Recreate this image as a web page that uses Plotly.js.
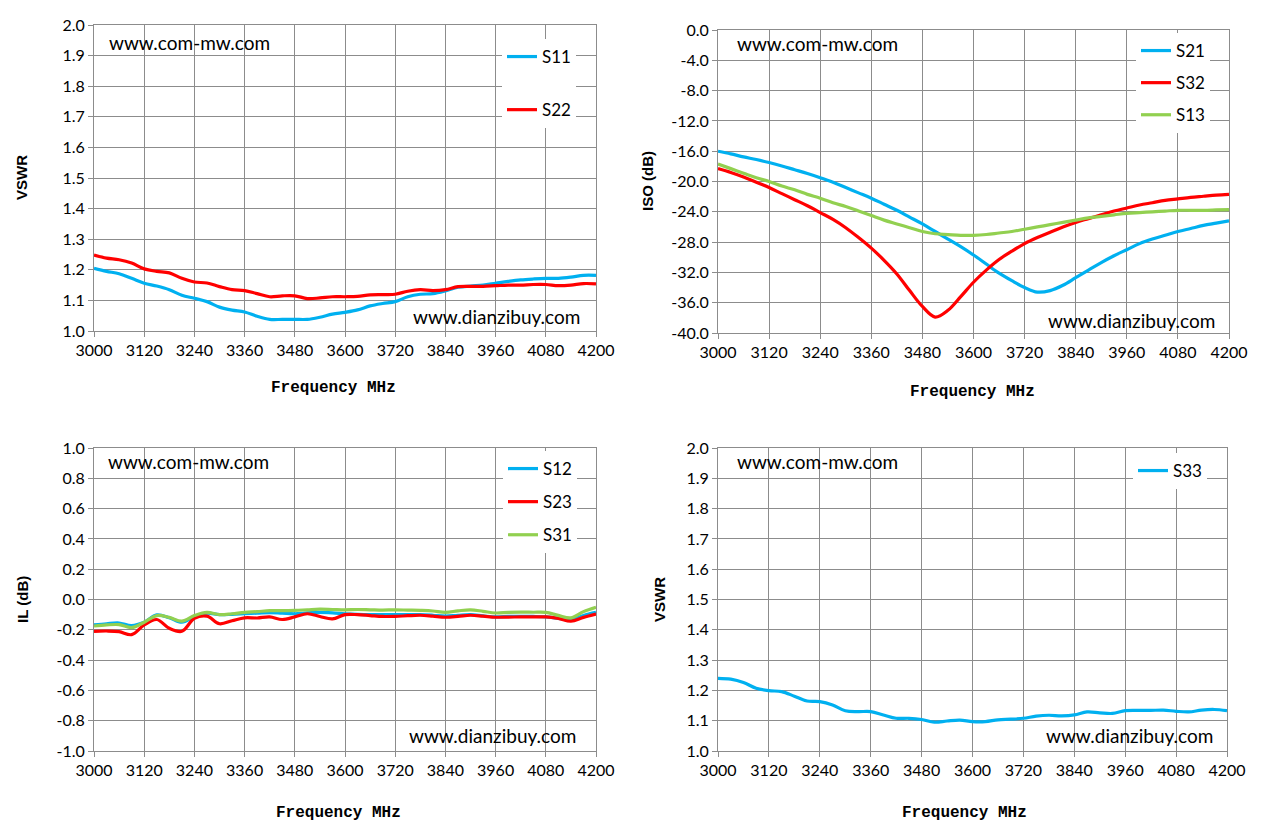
<!DOCTYPE html>
<html>
<head>
<meta charset="utf-8">
<script src="https://cdn.plot.ly/plotly-3.0.1.min.js"></script>
<style>
  html, body { margin: 0; padding: 0; background: #fff; }
  #chart { width: 1261px; height: 835px; }
</style>
</head>
<body>
<div id="chart"></div>
<script>
// frequency points, MHz (30 MHz steps)
var freq = [3000, 3030, 3060, 3090, 3120, 3150, 3180, 3210, 3240, 3270, 3300, 3330, 3360, 3390,
  3420, 3450, 3480, 3510, 3540, 3570, 3600, 3630, 3660, 3690, 3720, 3750, 3780, 3810, 3840,
  3870, 3900, 3930, 3960, 3990, 4020, 4050, 4080, 4110, 4140, 4170, 4200]

// VSWR port 1 / port 2
var s11 = [1.205, 1.195, 1.187, 1.172, 1.156, 1.147, 1.135, 1.117, 1.107, 1.096, 1.078, 1.068, 1.062, 1.048,
  1.038, 1.038, 1.038, 1.038, 1.045, 1.055, 1.061, 1.069, 1.082, 1.090, 1.096, 1.112, 1.120, 1.122, 1.131,
  1.143, 1.147, 1.150, 1.156, 1.162, 1.167, 1.170, 1.172, 1.172, 1.176, 1.182, 1.182]
var s22 = [1.248, 1.238, 1.233, 1.222, 1.203, 1.195, 1.190, 1.172, 1.160, 1.157, 1.145, 1.135, 1.132, 1.122,
  1.112, 1.115, 1.115, 1.106, 1.108, 1.112, 1.112, 1.113, 1.118, 1.119, 1.120, 1.130, 1.135, 1.132, 1.135,
  1.145, 1.146, 1.146, 1.148, 1.150, 1.150, 1.152, 1.152, 1.148, 1.150, 1.155, 1.154]

// isolation, dB
var s21 = [-16.0, -16.35, -16.75, -17.1, -17.5, -17.95, -18.45, -18.95, -19.5, -20.1, -20.8, -21.5, -22.2, -23.0,
  -23.8, -24.7, -25.6, -26.6, -27.6, -28.6, -29.7, -30.9, -32.1, -33.1, -34.0, -34.6, -34.4, -33.7, -32.7,
  -31.7, -30.7, -29.8, -29.0, -28.2, -27.6, -27.1, -26.6, -26.2, -25.8, -25.5, -25.2]
var s32 = [-18.3, -18.8, -19.4, -20.1, -20.8, -21.6, -22.4, -23.2, -24.1, -25.0, -26.1, -27.4, -28.8, -30.4,
  -32.2, -34.4, -36.5, -37.9, -37.0, -35.2, -33.3, -31.7, -30.3, -29.2, -28.2, -27.4, -26.7, -26.0, -25.4,
  -24.9, -24.4, -23.9, -23.5, -23.1, -22.8, -22.5, -22.3, -22.1, -21.95, -21.8, -21.7]
var s13 = [-17.7, -18.3, -18.9, -19.5, -20.0, -20.6, -21.1, -21.7, -22.2, -22.8, -23.3, -23.9, -24.5, -25.1,
  -25.6, -26.1, -26.6, -26.9, -27.0, -27.1, -27.1, -27.0, -26.8, -26.6, -26.3, -26.0, -25.7, -25.4, -25.1,
  -24.8, -24.6, -24.4, -24.2, -24.1, -24.0, -23.9, -23.8, -23.8, -23.8, -23.75, -23.7]

// insertion loss, dB
var s12 = [-0.168, -0.160, -0.155, -0.172, -0.150, -0.102, -0.120, -0.150, -0.112, -0.090, -0.100, -0.098, -0.094, -0.090,
  -0.086, -0.090, -0.094, -0.088, -0.085, -0.088, -0.094, -0.098, -0.100, -0.100, -0.100, -0.100, -0.100, -0.104, -0.110,
  -0.104, -0.100, -0.108, -0.115, -0.112, -0.111, -0.112, -0.115, -0.125, -0.135, -0.105, -0.085]
var s23 = [-0.210, -0.208, -0.212, -0.232, -0.168, -0.132, -0.190, -0.210, -0.125, -0.110, -0.160, -0.140, -0.121, -0.122,
  -0.115, -0.132, -0.115, -0.094, -0.112, -0.128, -0.100, -0.100, -0.106, -0.112, -0.111, -0.107, -0.104, -0.110, -0.117,
  -0.112, -0.104, -0.110, -0.117, -0.116, -0.115, -0.115, -0.115, -0.125, -0.143, -0.118, -0.096]
var s31 = [-0.175, -0.168, -0.166, -0.185, -0.150, -0.106, -0.118, -0.143, -0.106, -0.085, -0.100, -0.094, -0.085, -0.080,
  -0.074, -0.074, -0.072, -0.068, -0.064, -0.066, -0.068, -0.066, -0.068, -0.070, -0.068, -0.070, -0.072, -0.076, -0.085,
  -0.075, -0.068, -0.078, -0.089, -0.085, -0.083, -0.084, -0.085, -0.105, -0.121, -0.080, -0.051]

// VSWR port 3
var s33 = [1.240, 1.237, 1.226, 1.207, 1.199, 1.196, 1.181, 1.165, 1.163, 1.152, 1.133, 1.130, 1.130, 1.119,
  1.108, 1.108, 1.104, 1.095, 1.099, 1.102, 1.097, 1.097, 1.103, 1.105, 1.108, 1.115, 1.118, 1.116, 1.119,
  1.129, 1.126, 1.124, 1.133, 1.134, 1.134, 1.135, 1.131, 1.129, 1.135, 1.137, 1.133]

var BLUE = "#00b0f0", RED = "#ff0000", GREEN = "#92d050"
var W = 1261, H = 835
var tickFont = { family: "Lato, sans-serif", size: 16, color: "#000" }

function px(x) { return x / W }
function py(y) { return 1 - y / H }

function line(x, y, name, color, xa, ya, leg) {
  return {
    type: "scatter", mode: "lines", x: x, y: y, name: name,
    xaxis: xa, yaxis: ya, legend: leg, legendgroup: name,
    line: { color: color, width: 3.2, shape: "spline", smoothing: 1 },
  }
}

var data = [
  line(freq, s11, "S11", BLUE, "x", "y", "legend"),
  line(freq, s22, "S22", RED, "x", "y", "legend"),
  line(freq, s21, "S21", BLUE, "x2", "y2", "legend2"),
  line(freq, s32, "S32", RED, "x2", "y2", "legend2"),
  line(freq, s13, "S13", GREEN, "x2", "y2", "legend2"),
  line(freq, s12, "S12", BLUE, "x3", "y3", "legend3"),
  line(freq, s23, "S23", RED, "x3", "y3", "legend3"),
  line(freq, s31, "S31", GREEN, "x3", "y3", "legend3"),
  line(freq, s33, "S33", BLUE, "x4", "y4", "legend4"),
]

function ticks(lo, hi, step) {
  var v = [], t = []
  for (var k = 0; lo + k * step <= hi + 1e-9; k++) {
    var val = lo + k * step
    v.push(val)
    t.push(val.toFixed(1))
  }
  return { vals: v, text: t }
}

function xaxis(l, r, anchor) {
  return {
    domain: [px(l), px(r)], anchor: anchor, range: [3000, 4200],
    tickmode: "linear", tick0: 3000, dtick: 120,
    showgrid: true, gridcolor: "#8c8c8c", gridwidth: 1,
    showline: true, linecolor: "#8c8c8c", mirror: true,
    ticks: "outside", ticklen: 5, tickcolor: "#8c8c8c",
    tickfont: tickFont, zeroline: false, fixedrange: true,
  }
}
function yaxis(top, bot, anchor, lo, hi, step) {
  var t = ticks(lo, hi, step)
  return {
    domain: [py(bot), py(top)], anchor: anchor, range: [lo, hi],
    tickmode: "array", tickvals: t.vals, ticktext: t.text,
    showgrid: true, gridcolor: "#8c8c8c", gridwidth: 1,
    showline: true, linecolor: "#8c8c8c", mirror: true,
    ticks: "outside", ticklen: 5, tickcolor: "#8c8c8c",
    tickfont: tickFont, zeroline: false, fixedrange: true,
  }
}

function legendAt(x, y, gap) {
  return {
    x: px(x), y: py(y), xanchor: "left", yanchor: "top",
    bgcolor: "#fff", borderwidth: 0,
    font: { family: "Lato, sans-serif", size: 17, color: "#000" },
    tracegroupgap: gap, traceorder: "grouped",
  }
}

var axisTitleFont = { family: "Liberation Sans, Arial, sans-serif", size: 15, color: "#000", weight: "bold" }
var freqFont = { family: "Liberation Mono, monospace", size: 16, color: "#000", weight: "bold" }
var wmFont = { family: "Lato, sans-serif", size: 19, color: "#000" }

function note(text, x, y, font, xanchor, angle) {
  return {
    text: text, xref: "paper", yref: "paper", x: px(x), y: py(y),
    xanchor: xanchor || "center", yanchor: "middle",
    showarrow: false, font: font, textangle: angle || 0,
  }
}

var annotations = [
  note("<b>VSWR</b>", 22, 178, axisTitleFont, "center", -90),
  note("<b>ISO (dB)</b>", 648, 181, axisTitleFont, "center", -90),
  note("<b>IL (dB)</b>", 22, 600, axisTitleFont, "center", -90),
  note("<b>VSWR</b>", 659, 600, axisTitleFont, "center", -90),
  note("<b>Frequency MHz</b>", 333, 388, freqFont),
  note("<b>Frequency MHz</b>", 972, 392, freqFont),
  note("<b>Frequency MHz</b>", 338, 813, freqFont),
  note("<b>Frequency MHz</b>", 965, 813, freqFont),
  note("www.com-mw.com", 107, 42, wmFont, "left"),
  note("www.com-mw.com", 735, 44, wmFont, "left"),
  note("www.com-mw.com", 106, 462, wmFont, "left"),
  note("www.com-mw.com", 735, 462, wmFont, "left"),
  note("www.dianzibuy.com", 582, 316, wmFont, "right"),
  note("www.dianzibuy.com", 1217, 320, wmFont, "right"),
  note("www.dianzibuy.com", 578, 735, wmFont, "right"),
  note("www.dianzibuy.com", 1215, 735, wmFont, "right"),
]

var layout = {
  width: W, height: H,
  margin: { t: 0, r: 0, l: 0, b: 0 },
  paper_bgcolor: "#fff", plot_bgcolor: "#fff",
  showlegend: true,
  xaxis: xaxis(94, 596, "y"),
  yaxis: yaxis(25, 331, "x", 1.0, 2.0, 0.1),
  xaxis2: xaxis(718, 1229, "y2"),
  yaxis2: yaxis(30, 333, "x2", -40, 0, 4),
  xaxis3: xaxis(94, 596, "y3"),
  yaxis3: yaxis(448, 751, "x3", -1.0, 1.0, 0.2),
  xaxis4: xaxis(718, 1227, "y4"),
  yaxis4: yaxis(448, 751, "x4", 1.0, 2.0, 0.1),
  legend: legendAt(502, 39, 28),
  legend2: legendAt(1136, 33, 7),
  legend3: legendAt(503, 451, 8),
  legend4: legendAt(1133, 453, 8),
  annotations: annotations,
}

Plotly.newPlot("chart", data, layout, { displayModeBar: false, staticPlot: true })
</script>
</body>
</html>
